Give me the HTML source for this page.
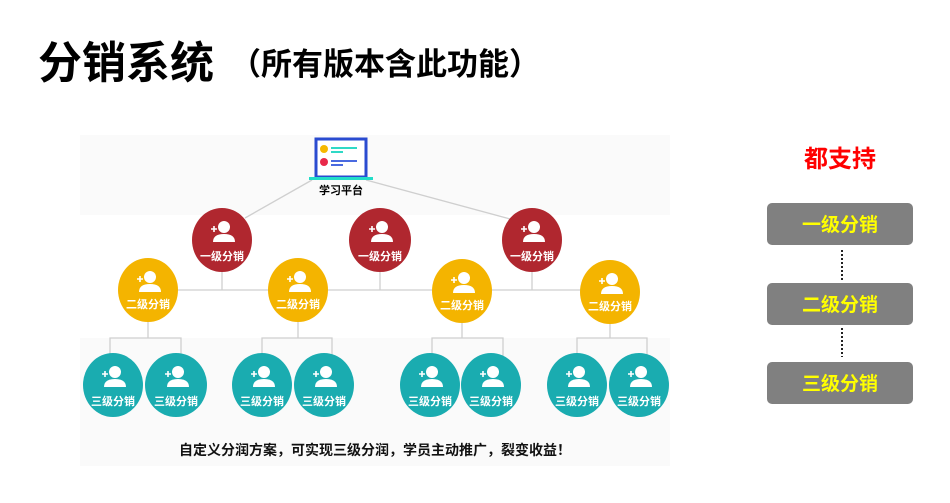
<!DOCTYPE html>
<html><head><meta charset="utf-8"><style>
body{margin:0;width:950px;height:498px;background:#fff;overflow:hidden;font-family:"Liberation Sans","Noto Sans CJK SC",sans-serif}
</style></head><body>
<svg width="950" height="498" xmlns="http://www.w3.org/2000/svg" style="font-family:'Liberation Sans','Noto Sans CJK SC',sans-serif">
<defs>
<g id="p"><circle cx="2" cy="-9" r="6" fill="#fff"/><path d="M-9 6 Q-9 -2 2 -2 Q13 -2 13 6 Z" fill="#fff"/><path d="M-11 -7h6M-8 -10v6" stroke="#fff" stroke-width="1.6"/></g>
</defs>
<text x="38" y="78" font-size="44" font-weight="bold" fill="#000">分销系统</text>
<text x="230" y="75" font-size="31" font-weight="bold" fill="#000">（所有版本含此功能）</text>
<rect x="80" y="135" width="590" height="80" fill="#fafafa"/>
<rect x="80" y="338" width="590" height="128" fill="#fafafa"/>
<g stroke="#cfcfcf" stroke-width="1.3" fill="none">
<line x1="312" y1="180" x2="245" y2="218"/><line x1="366" y1="180" x2="510" y2="219"/>
<line x1="148" y1="290" x2="610" y2="290"/>
<line x1="222" y1="268" x2="222" y2="290"/><line x1="380" y1="268" x2="380" y2="290"/><line x1="532" y1="268" x2="532" y2="290"/>
<path d="M148 318V338M110 356V338H181V356"/>
<path d="M298 318V338M262 356V338H332V356"/>
<path d="M462 318V338M432 356V338H503V356"/>
<path d="M610 318V338M577 356V338H647V356"/>
</g>
<rect x="316" y="139" width="50" height="38" fill="#fff" stroke="#2a4bd0" stroke-width="3"/>
<rect x="309" y="177" width="64" height="3" fill="#22ddc8"/>
<circle cx="324" cy="149" r="4" fill="#f6b800"/><circle cx="324" cy="162" r="4" fill="#e8294a"/>
<rect x="331" y="147" width="26" height="2" fill="#2fd9c6"/><rect x="331" y="151" width="12" height="2" fill="#2fd9c6"/>
<rect x="331" y="160" width="26" height="2" fill="#4a6ae0"/><rect x="331" y="164" width="12" height="2" fill="#4a6ae0"/>
<text x="341" y="194" font-size="11" font-weight="bold" text-anchor="middle">学习平台</text>
<g font-size="11" font-weight="bold" fill="#fff" text-anchor="middle">
<g fill="#b0272f"><ellipse cx="222" cy="240" rx="30" ry="32"/><ellipse cx="380" cy="240" rx="31" ry="32"/><ellipse cx="532" cy="240" rx="30" ry="32"/></g>
<g fill="#f4b400"><ellipse cx="148" cy="290" rx="30" ry="32"/><ellipse cx="298" cy="290" rx="30" ry="32"/><ellipse cx="462" cy="291" rx="30" ry="32"/><ellipse cx="610" cy="292" rx="30" ry="32"/></g>
<g fill="#1aacb0"><ellipse cx="113" cy="385" rx="30" ry="32"/><ellipse cx="176" cy="385" rx="31" ry="32"/><ellipse cx="262" cy="385" rx="30" ry="32"/><ellipse cx="324" cy="385" rx="30" ry="32"/><ellipse cx="430" cy="385" rx="30" ry="32"/><ellipse cx="491" cy="385" rx="30" ry="32"/><ellipse cx="577" cy="385" rx="30" ry="32"/><ellipse cx="639" cy="385" rx="30" ry="32"/></g>
<use href="#p" x="222" y="236"/><use href="#p" x="380" y="236"/><use href="#p" x="532" y="236"/>
<text x="222" y="260">一级分销</text><text x="380" y="260">一级分销</text><text x="532" y="260">一级分销</text>
<use href="#p" x="148" y="286"/><use href="#p" x="298" y="286"/><use href="#p" x="462" y="287"/><use href="#p" x="610" y="288"/>
<text x="148" y="308">二级分销</text><text x="298" y="308">二级分销</text><text x="462" y="309">二级分销</text><text x="610" y="310">二级分销</text>
<use href="#p" x="113" y="381"/><use href="#p" x="176" y="381"/><use href="#p" x="262" y="381"/><use href="#p" x="324" y="381"/><use href="#p" x="430" y="381"/><use href="#p" x="491" y="381"/><use href="#p" x="577" y="381"/><use href="#p" x="639" y="381"/>
<text x="113" y="405">三级分销</text><text x="176" y="405">三级分销</text><text x="262" y="405">三级分销</text><text x="324" y="405">三级分销</text><text x="430" y="405">三级分销</text><text x="491" y="405">三级分销</text><text x="577" y="405">三级分销</text><text x="639" y="405">三级分销</text>
</g>
<text x="375" y="455" font-size="14" font-weight="bold" text-anchor="middle" fill="#111">自定义分润方案，可实现三级分润，学员主动推广，裂变收益！</text>
<text x="840" y="167" font-size="24" font-weight="bold" fill="#ff0000" text-anchor="middle">都支持</text>
<g fill="#808080"><rect x="767" y="203" width="146" height="42" rx="5"/><rect x="767" y="283" width="146" height="42" rx="5"/><rect x="767" y="362" width="146" height="42" rx="5"/></g>
<g stroke="#222" stroke-width="2" stroke-dasharray="2,2"><line x1="842" y1="250" x2="842" y2="280"/><line x1="842" y1="328" x2="842" y2="357"/></g>
<g font-size="19" font-weight="bold" fill="#ffff00" text-anchor="middle"><text x="840" y="231">一级分销</text><text x="840" y="311">二级分销</text><text x="840" y="390">三级分销</text></g>
</svg>
</body></html>
